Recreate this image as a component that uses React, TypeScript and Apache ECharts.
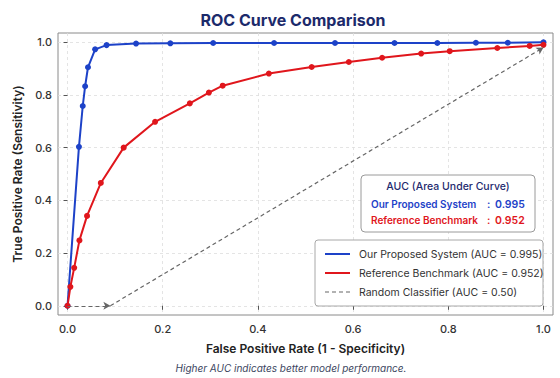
import React, { useEffect, useRef } from "react";
import * as echarts from "echarts";

const tickValues = [0, 0.2, 0.4, 0.6, 0.8, 1.0];

const proposedFpr = [0, 0.024, 0.032, 0.037, 0.043, 0.058, 0.082, 0.144, 0.216, 0.306, 0.434, 0.562, 0.687, 0.777, 0.858, 0.925, 1.0];
const proposedTpr = [0, 0.603, 0.758, 0.833, 0.905, 0.973, 0.989, 0.995, 0.996, 0.997, 0.997, 0.997, 0.997, 0.997, 0.998, 0.998, 1.0];

const benchmarkFpr = [0, 0.006, 0.014, 0.025, 0.041, 0.07, 0.118, 0.184, 0.257, 0.297, 0.326, 0.423, 0.513, 0.591, 0.661, 0.743, 0.803, 0.903, 0.971, 1.0];
const benchmarkTpr = [0, 0.072, 0.144, 0.248, 0.341, 0.466, 0.6, 0.698, 0.768, 0.809, 0.835, 0.881, 0.906, 0.925, 0.941, 0.957, 0.966, 0.978, 0.986, 0.99];

const randomFpr = [0, 0.09, 1.0];
const randomTpr = [0, 0, 0.98];

const seriesNames = [
  "Our Proposed System (AUC = 0.995)",
  "Reference Benchmark (AUC = 0.952)",
  "Random Classifier (AUC = 0.50)",
];
const aucLabels = ["Our Proposed System", "Reference Benchmark"];
const aucValues = ["0.995", "0.952"];

const BLUE = "#1d42c8";
const RED = "#e0161c";
const GRAY = "#666666";
const FONT = "Inter, 'Noto Sans', sans-serif";

export default function App() {
  const ref = useRef<HTMLDivElement>(null);
  useEffect(() => {
    if (!ref.current) return;
    const chart = echarts.init(ref.current, null, { renderer: "svg" });
    const pairs = (xs: number[], ys: number[]) => xs.map((x, i) => [x, ys[i]]);
    const rnd = pairs(randomFpr, randomTpr);
    const legendRows = [254, 273, 292];
    const legendColors = [BLUE, RED, GRAY];
    chart.setOption({
      animation: false,
      backgroundColor: "#ffffff",
      textStyle: { fontFamily: FONT },
      title: {
        text: "ROC Curve Comparison",
        left: 288,
        textAlign: "center",
        top: 7,
        textStyle: { fontSize: 16, fontWeight: "bold", color: "#1c2a6b", fontFamily: FONT },
      },
      grid: {
        left: 58,
        top: 33,
        right: 7,
        bottom: 63,
        show: true,
        borderColor: "#8a8a8a",
        borderWidth: 1,
        backgroundColor: "#ffffff",
      },
      xAxis: {
        type: "value",
        min: -0.02,
        max: 1.02,
        name: "False Positive Rate (1 - Specificity)",
        nameLocation: "middle",
        nameGap: 27,
        nameTextStyle: { fontSize: 12, fontWeight: 600, color: "#222", fontFamily: FONT },
        axisLine: { show: false },
        axisTick: { show: true, length: 4, lineStyle: { color: "#555" }, customValues: tickValues },
        axisLabel: {
          customValues: tickValues,
          fontSize: 11,
          fontWeight: 500,
          color: "#333",
          margin: 8,
          formatter: (v: number) => v.toFixed(1),
        },
        splitLine: { show: true, lineStyle: { color: "#dddddd", type: [3, 3], width: 0.8 } },
      },
      yAxis: {
        type: "value",
        min: -0.035,
        max: 1.035,
        name: "True Positive Rate (Sensitivity)",
        nameLocation: "middle",
        nameGap: 33,
        nameTextStyle: { fontSize: 12, fontWeight: 600, color: "#222", fontFamily: FONT },
        axisLine: { show: false },
        axisTick: { show: true, length: 4, lineStyle: { color: "#555" }, customValues: tickValues },
        axisLabel: {
          customValues: tickValues,
          fontSize: 11,
          fontWeight: 500,
          color: "#333",
          margin: 6,
          formatter: (v: number) => v.toFixed(1),
        },
        splitLine: { show: true, lineStyle: { color: "#dddddd", type: [3, 3], width: 0.8 } },
      },
      series: [
        {
          name: seriesNames[2],
          type: "line",
          data: rnd,
          showSymbol: false,
          symbol: "none",
          lineStyle: { opacity: 0 },
          silent: true,
          z: 1,
          markLine: {
            silent: true,
            symbol: ["none", "arrow"],
            symbolSize: [6, 7],
            label: { show: false },
            lineStyle: { color: GRAY, type: [4, 3], width: 1.2 },
            data: [
              [{ coord: rnd[0] }, { coord: rnd[1] }],
              [{ coord: rnd[1] }, { coord: rnd[2] }],
            ],
          },
        },
        {
          name: seriesNames[0],
          type: "line",
          data: pairs(proposedFpr, proposedTpr),
          symbol: "circle",
          symbolSize: 6,
          itemStyle: { color: BLUE },
          lineStyle: { color: BLUE, width: 2 },
          z: 3,
        },
        {
          name: seriesNames[1],
          type: "line",
          data: pairs(benchmarkFpr, benchmarkTpr),
          symbol: "circle",
          symbolSize: 6,
          itemStyle: { color: RED },
          lineStyle: { color: RED, width: 2 },
          z: 4,
        },
      ],
      graphic: [
        {
          type: "rect",
          shape: { x: 361, y: 175, width: 174, height: 57, r: 4 },
          style: { fill: "#ffffff", stroke: "#9a9a9a", lineWidth: 1 },
          z: 10,
        },
        {
          type: "text",
          x: 448,
          y: 186,
          style: {
            text: "AUC (Area Under Curve)",
            fill: "#1e2a6e",
            font: `500 10.5px ${FONT}`,
            textAlign: "center",
            textVerticalAlign: "middle",
          },
          z: 11,
        },
        ...aucLabels.flatMap((lab, i) => {
          const y = 204 + i * 16;
          const c = i === 0 ? BLUE : RED;
          return [
            { type: "text", x: 371, y, style: { text: lab, fill: c, font: `600 10px ${FONT}`, textVerticalAlign: "middle" }, z: 11 },
            { type: "text", x: 487, y, style: { text: ":", fill: c, font: `600 10.5px ${FONT}`, textVerticalAlign: "middle" }, z: 11 },
            { type: "text", x: 495, y, style: { text: aucValues[i], fill: c, font: `600 10.5px ${FONT}`, textVerticalAlign: "middle" }, z: 11 },
          ];
        }),
        {
          type: "rect",
          shape: { x: 315, y: 240, width: 228, height: 66, r: 3 },
          style: { fill: "#ffffff", stroke: "#a8a8a8", lineWidth: 1 },
          z: 10,
        },
        ...seriesNames.flatMap((nm, i) => {
          const y = legendRows[i];
          return [
            {
              type: "line",
              shape: { x1: 325, y1: y, x2: 350, y2: y },
              style: {
                stroke: legendColors[i],
                lineWidth: i === 2 ? 1.2 : 2,
                lineDash: i === 2 ? [4, 3] : null,
              },
              z: 11,
            },
            {
              type: "text",
              x: 359,
              y,
              style: { text: nm, fill: "#333", font: `10.5px ${FONT}`, textVerticalAlign: "middle" },
              z: 11,
            },
          ];
        }),
        {
          type: "text",
          x: 291,
          y: 368,
          style: {
            text: "Higher AUC indicates better model performance.",
            fill: "#3b4560",
            font: `italic 10px ${FONT}`,
            textAlign: "center",
            textVerticalAlign: "middle",
          },
        },
      ],
    });
    return () => chart.dispose();
  }, []);
  return <div ref={ref} style={{ width: 560, height: 378, position: "absolute", left: 0, top: 0 }} />;
}
